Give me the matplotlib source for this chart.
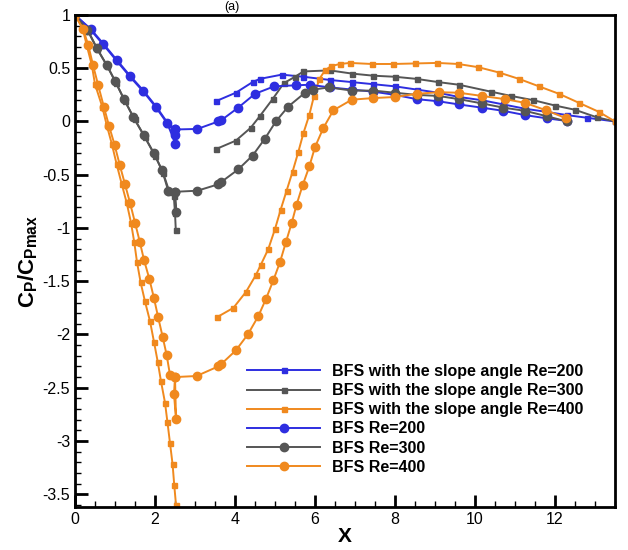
import matplotlib
matplotlib.use("Agg")
import matplotlib.pyplot as plt
from matplotlib.ticker import MultipleLocator, FormatStrFormatter
import numpy as np

nan = np.nan

# BFS with the slope angle (squares); NaN marks the gap over the slope
slope200_x = [0, 0.39, 0.71, 1.04, 1.375, 1.71, 2.03, 2.31, 2.5, nan,
              3.52, 4.02, 4.44, 4.62, 5.17, 5.71, 6.37, 6.92, 7.46, 8.0, 8.54,
              9.08, 9.6, 10.17, 10.71, 11.25, 11.79, 12.3, 12.8, 13.5]
slope200_y = [1, 0.86, 0.72, 0.57, 0.42, 0.28, 0.13, -0.02, -0.2, nan,
              0.19, 0.27, 0.37, 0.40, 0.44, 0.42, 0.39, 0.37, 0.35, 0.33, 0.30,
              0.27, 0.23, 0.20, 0.16, 0.12, 0.09, 0.06, 0.035, 0.0]

slope300_x = [0, 0.33, 0.56, 0.81, 1.03, 1.25, 1.49, 1.75, 2.0, 2.2, 2.36, 2.47,
              2.5, 2.52, nan,
              3.52, 4.02, 4.39, 4.62, 4.94, 5.22, 5.5, 5.71, 6.37, 6.92, 7.46,
              8.0, 8.54, 9.08, 9.6, 10.4, 10.9, 11.46, 12.0, 12.5, 13.04, 13.5]
slope300_y = [1, 0.85, 0.68, 0.52, 0.36, 0.19, 0.02, -0.15, -0.32, -0.48, -0.66,
              -0.70, -0.86, -1.02, nan,
              -0.26, -0.18, -0.06, 0.05, 0.21, 0.36, 0.42, 0.47, 0.48, 0.45, 0.43,
              0.42, 0.40, 0.37, 0.345, 0.28, 0.24, 0.20, 0.15, 0.11, 0.04, 0.0]

slope400_x = [0, 0.19, 0.29, 0.42, 0.5, 0.68, 0.79, 0.92, 1.04, 1.17, 1.29, 1.4,
              1.48, 1.55, 1.64, 1.75, 1.875, 1.975, 2.07, 2.15, 2.25, 2.31, 2.375,
              2.44, 2.48, 2.525, nan,
              3.54, 3.96, 4.275, 4.525, 4.64, 4.83, 5.0, 5.14, 5.29, 5.44, 5.58,
              5.71, 5.86, 5.975, 6.11, 6.25, 6.4, 6.625, 6.875, 7.42, 7.96, 8.5,
              9.06, 9.58, 10.08, 10.6, 11.1, 11.6, 12.1, 12.6, 13.1, 13.5]
slope400_y = [1, 0.875, 0.72, 0.53, 0.35, 0.14, -0.03, -0.21, -0.40, -0.59, -0.76,
              -0.95, -1.13, -1.32, -1.51, -1.69, -1.875, -2.07, -2.26, -2.44, -2.64,
              -2.82, -3.02, -3.22, -3.41, -3.6, nan,
              -1.84, -1.75, -1.60, -1.44, -1.35, -1.20, -1.01, -0.83, -0.65, -0.47,
              -0.29, -0.11, 0.065, 0.24, 0.40, 0.48, 0.52, 0.54, 0.55, 0.54, 0.54,
              0.545, 0.55, 0.54, 0.51, 0.46, 0.40, 0.33, 0.26, 0.175, 0.09, 0.0]

# BFS without slope (circles)
bfs200_x = [0, 0.39, 0.71, 1.04, 1.375, 1.71, 2.03, 2.31, 2.5, 2.5, 2.5, 2.5,
            3.06, 3.58, 3.65, 4.08, 4.5, 4.98, 5.52, 5.87, 6.37, 6.92, 7.46, 8.0,
            8.54, 9.08, 9.6, 10.17, 10.71, 11.25, 11.79, 12.3]
bfs200_y = [1, 0.87, 0.73, 0.58, 0.43, 0.29, 0.14, -0.01, -0.075, -0.13, -0.21,
            -0.075, -0.07, 0.0, 0.01, 0.13, 0.26, 0.33, 0.34, 0.345, 0.32, 0.30,
            0.28, 0.25, 0.21, 0.19, 0.16, 0.13, 0.10, 0.06, 0.03, 0.005]

bfs300_x = [0, 0.31, 0.54, 0.79, 1.0, 1.225, 1.46, 1.725, 1.975, 2.18, 2.33, 2.5,
            2.52, 2.5, 3.06, 3.58, 3.65, 4.08, 4.44, 4.75, 5.02, 5.33, 5.75, 5.96,
            6.35, 6.92, 7.46, 8.0, 8.54, 9.08, 9.6, 10.17, 10.71, 11.25, 11.79,
            12.3]
bfs300_y = [1, 0.86, 0.69, 0.53, 0.38, 0.21, 0.04, -0.13, -0.30, -0.46, -0.65,
            -0.66, -0.85, -0.66, -0.65, -0.59, -0.57, -0.45, -0.32, -0.16, 0.0,
            0.14, 0.27, 0.30, 0.32, 0.29, 0.29, 0.27, 0.25, 0.24, 0.21, 0.17, 0.13,
            0.10, 0.05, 0.0]

bfs400_x = [0, 0.2, 0.33, 0.45, 0.58, 0.72, 0.85, 0.99, 1.12, 1.25, 1.38, 1.5,
            1.62, 1.725, 1.86, 1.975, 2.08, 2.19, 2.29, 2.375, 2.5, 2.475, 2.525,
            2.5, 3.04, 3.58, 3.65, 4.02, 4.32, 4.58, 4.77, 4.96, 5.125, 5.275,
            5.42, 5.54, 5.69, 5.86, 6.0, 6.21, 6.46, 6.92, 7.46, 8.0, 8.54, 9.1,
            9.6, 10.17, 10.75, 11.25, 11.78, 12.28]
bfs400_y = [1, 0.87, 0.72, 0.53, 0.34, 0.14, -0.04, -0.22, -0.41, -0.59, -0.77,
            -0.95, -1.13, -1.30, -1.48, -1.66, -1.84, -2.02, -2.19, -2.38, -2.40,
            -2.56, -2.79, -2.40, -2.39, -2.30, -2.28, -2.15, -2.0, -1.83, -1.67,
            -1.49, -1.32, -1.13, -0.95, -0.78, -0.60, -0.42, -0.24, -0.06, 0.105,
            0.205, 0.22, 0.23, 0.26, 0.275, 0.27, 0.24, 0.21, 0.175, 0.105, 0.03]

BLUE = "#2e2ee0"
GRAY = "#555555"
ORANGE = "#f0891e"

plt.rcParams["font.family"] = ["Liberation Sans", "DejaVu Sans"]
plt.rcParams["axes.unicode_minus"] = False
plt.rcParams["mathtext.fontset"] = "custom"
plt.rcParams["mathtext.rm"] = "Liberation Sans"
plt.rcParams["mathtext.bf"] = "Liberation Sans:bold"


def main() -> None:
    fig = plt.figure(figsize=(6.28, 5.5), dpi=100)
    ax = fig.add_axes([75 / 628, 43 / 550, 540 / 628, 492 / 550])

    series = [
        (slope200_x, slope200_y, BLUE, "s", 3.6, "BFS with the slope angle Re=200"),
        (slope300_x, slope300_y, GRAY, "s", 3.6, "BFS with the slope angle Re=300"),
        (slope400_x, slope400_y, ORANGE, "s", 3.6, "BFS with the slope angle Re=400"),
        (bfs200_x, bfs200_y, BLUE, "o", 6.0, "BFS Re=200"),
        (bfs300_x, bfs300_y, GRAY, "o", 6.0, "BFS Re=300"),
        (bfs400_x, bfs400_y, ORANGE, "o", 6.0, "BFS Re=400"),
    ]
    for xs, ys, color, marker, ms, label in series:
        ax.plot(xs, ys, color=color, linewidth=1.4, marker=marker, markersize=ms,
                label=label)

    ax.set_xlim(0, 13.5)
    ax.set_ylim(-3.62, 1)
    ax.xaxis.set_major_locator(MultipleLocator(2))
    ax.xaxis.set_minor_locator(MultipleLocator(0.5))
    ax.yaxis.set_major_locator(MultipleLocator(0.5))
    ax.yaxis.set_minor_locator(MultipleLocator(0.1))
    ax.yaxis.set_major_formatter(FormatStrFormatter("%g"))
    ax.xaxis.set_major_formatter(FormatStrFormatter("%g"))
    ax.tick_params(which="both", direction="in", top=False, right=False,
                   labelsize=11.5, width=1.3)
    ax.tick_params(which="major", length=9, width=2)
    ax.tick_params(which="minor", length=4.5, width=1)
    for spine in ax.spines.values():
        spine.set_linewidth(2)

    ax.set_xlabel("X", fontsize=15, fontweight="bold", labelpad=0)
    ax.set_ylabel(r"$\mathbf{C_P/C_{Pmax}}$", fontsize=16, labelpad=2)

    ax.legend(loc="upper left", bbox_to_anchor=((247 - 75) / 540, (507 - 364) / 492),
              frameon=False, borderpad=0, borderaxespad=0,
              handlelength=4.6, handletextpad=0.75, labelspacing=0.26,
              prop={"weight": "bold", "size": 11.5})

    fig.text(232 / 628, 1 - 1 / 550, "(a)", fontsize=9, ha="center", va="top")

    fig.savefig("out.png", dpi=100)
    plt.close(fig)


if __name__ == "__main__":
    main()
